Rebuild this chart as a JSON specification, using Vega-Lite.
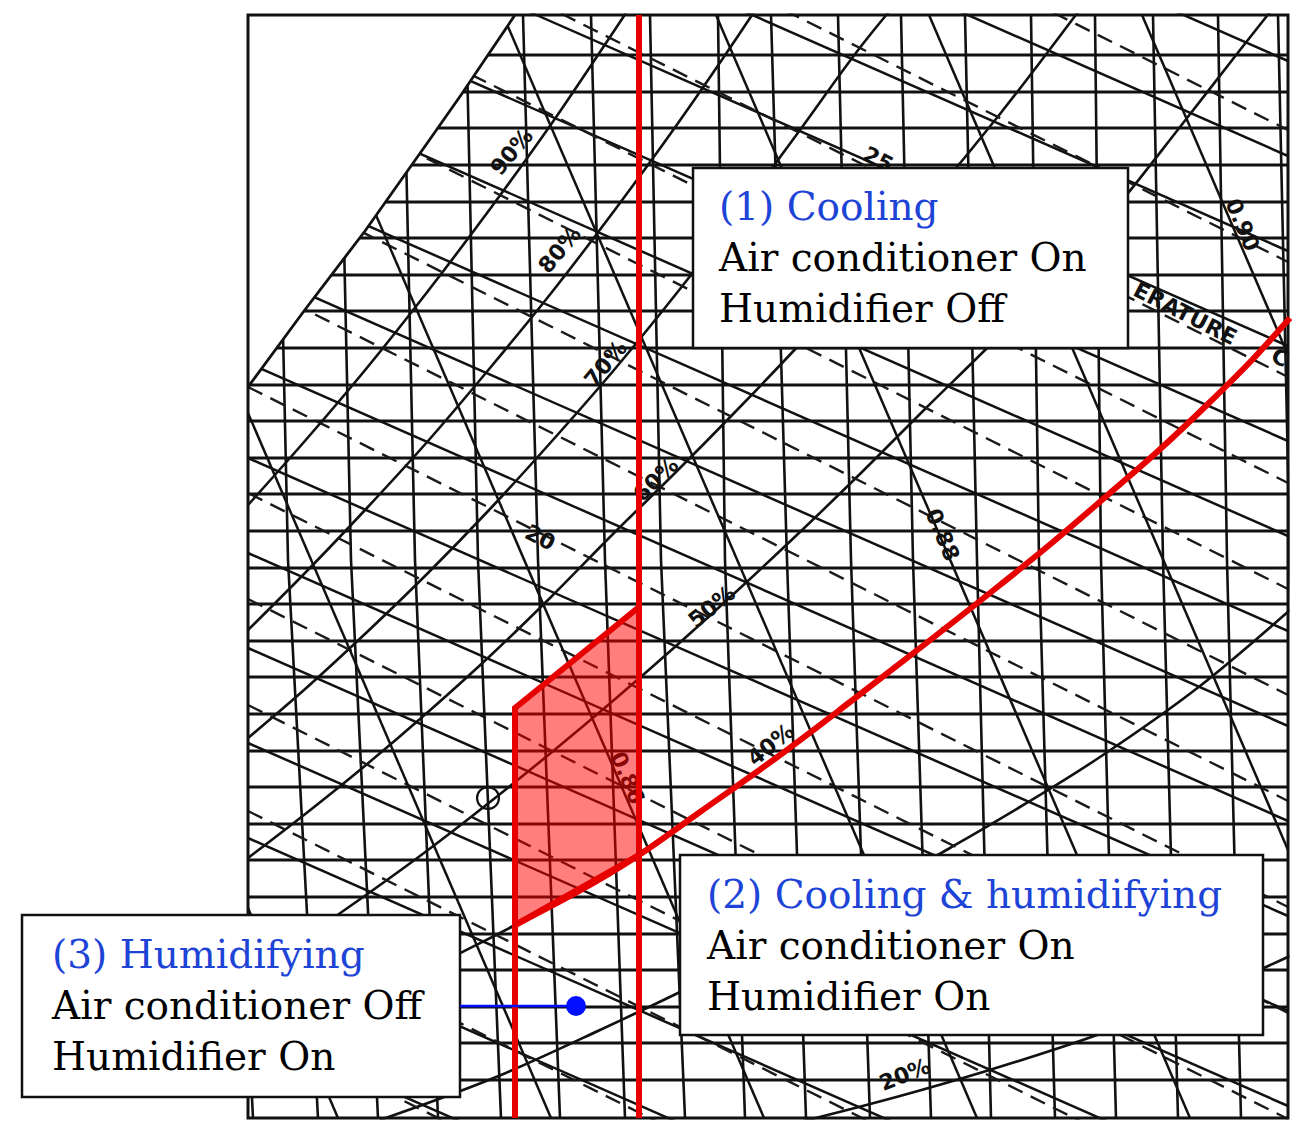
{
  "$schema": "https://vega.github.io/schema/vega-lite/v6.json",
  "width": 1304,
  "height": 1138,
  "autosize": {"type": "none"},
  "padding": 0,
  "background": "white",
  "config": {"view": {"stroke": null}},
  "datasets": {
    "hgrid": [{"x":248,"x2":1288,"y":55},{"x":248,"x2":1288,"y":92},{"x":248,"x2":1288,"y":128},{"x":248,"x2":1288,"y":165},{"x":248,"x2":1288,"y":202},{"x":248,"x2":1288,"y":238},{"x":248,"x2":1288,"y":275},{"x":248,"x2":1288,"y":311},{"x":248,"x2":1288,"y":348},{"x":248,"x2":1288,"y":385},{"x":248,"x2":1288,"y":421},{"x":248,"x2":1288,"y":458},{"x":248,"x2":1288,"y":494},{"x":248,"x2":1288,"y":531},{"x":248,"x2":1288,"y":568},{"x":248,"x2":1288,"y":604},{"x":248,"x2":1288,"y":641},{"x":248,"x2":1288,"y":677},{"x":248,"x2":1288,"y":714},{"x":248,"x2":1288,"y":751},{"x":248,"x2":1288,"y":787},{"x":248,"x2":1288,"y":824},{"x":248,"x2":1288,"y":860},{"x":248,"x2":1288,"y":897},{"x":248,"x2":1288,"y":934},{"x":248,"x2":1288,"y":970},{"x":248,"x2":1288,"y":1007},{"x":248,"x2":1288,"y":1043},{"x":248,"x2":1288,"y":1080}],
    "vgrid": [
      {"id":"vm","x":213,"y":15},{"id":"vm","x":225,"y":560},{"id":"vm","x":253,"y":1118},
      {"id":"v0","x":276,"y":15},{"id":"v0","x":288,"y":560},{"id":"v0","x":318,"y":1118},
      {"id":"v1","x":339,"y":15},{"id":"v1","x":351,"y":560},{"id":"v1","x":378,"y":1118},
      {"id":"v2","x":403,"y":15},{"id":"v2","x":415,"y":560},{"id":"v2","x":438,"y":1118},
      {"id":"v3","x":466,"y":15},{"id":"v3","x":478,"y":560},{"id":"v3","x":501,"y":1118},
      {"id":"v4","x":523,"y":15},{"id":"v4","x":538,"y":560},{"id":"v4","x":560,"y":1118},
      {"id":"v5","x":591,"y":15},{"id":"v5","x":605,"y":560},{"id":"v5","x":625,"y":1118},
      {"id":"v6","x":650,"y":15},{"id":"v6","x":661,"y":560},{"id":"v6","x":685,"y":1118},
      {"id":"v7","x":718,"y":15},{"id":"v7","x":725,"y":560},{"id":"v7","x":745,"y":1118},
      {"id":"v8","x":771,"y":15},{"id":"v8","x":787,"y":560},{"id":"v8","x":806,"y":1118},
      {"id":"v9","x":838,"y":15},{"id":"v9","x":851,"y":560},{"id":"v9","x":870,"y":1118},
      {"id":"v10","x":901,"y":15},{"id":"v10","x":913,"y":560},{"id":"v10","x":931,"y":1118},
      {"id":"v11","x":965,"y":15},{"id":"v11","x":977,"y":560},{"id":"v11","x":991,"y":1118},
      {"id":"v12","x":1031,"y":15},{"id":"v12","x":1039,"y":560},{"id":"v12","x":1055,"y":1118},
      {"id":"v13","x":1095,"y":15},{"id":"v13","x":1101,"y":560},{"id":"v13","x":1116,"y":1118},
      {"id":"v14","x":1153,"y":15},{"id":"v14","x":1163,"y":560},{"id":"v14","x":1178,"y":1118},
      {"id":"v15","x":1218,"y":15},{"id":"v15","x":1227,"y":560},{"id":"v15","x":1241,"y":1118},
      {"id":"v16","x":1278,"y":15},{"id":"v16","x":1290,"y":560},{"id":"v16","x":1303,"y":1118}
    ],
    "rh": [
      {"id":"r90","x":248,"y":505},{"id":"r90","x":304,"y":442},{"id":"r90","x":366,"y":369},{"id":"r90","x":428,"y":291},{"id":"r90","x":490,"y":209},{"id":"r90","x":552,"y":123},{"id":"r90","x":614,"y":31},{"id":"r90","x":626,"y":13},
      {"id":"r80","x":248,"y":630},{"id":"r80","x":304,"y":574},{"id":"r80","x":366,"y":509},{"id":"r80","x":428,"y":441},{"id":"r80","x":490,"y":368},{"id":"r80","x":552,"y":292},{"id":"r80","x":614,"y":211},{"id":"r80","x":676,"y":126},{"id":"r80","x":738,"y":36},{"id":"r80","x":754,"y":12},
      {"id":"r70","x":248,"y":738},{"id":"r70","x":304,"y":690},{"id":"r70","x":366,"y":633},{"id":"r70","x":428,"y":573},{"id":"r70","x":490,"y":509},{"id":"r70","x":552,"y":441},{"id":"r70","x":614,"y":370},{"id":"r70","x":676,"y":294},{"id":"r70","x":738,"y":214},{"id":"r70","x":800,"y":130},{"id":"r70","x":862,"y":45},{"id":"r70","x":892,"y":8},
      {"id":"r60","x":248,"y":858},{"id":"r60","x":304,"y":815},{"id":"r60","x":366,"y":765},{"id":"r60","x":428,"y":712},{"id":"r60","x":490,"y":656},{"id":"r60","x":552,"y":596},{"id":"r60","x":614,"y":533},{"id":"r60","x":676,"y":472},{"id":"r60","x":738,"y":409},{"id":"r60","x":800,"y":344},{"id":"r60","x":862,"y":276},{"id":"r60","x":930,"y":199},{"id":"r60","x":1000,"y":114},{"id":"r60","x":1078,"y":12},
      {"id":"r50","x":248,"y":975},{"id":"r50","x":304,"y":938},{"id":"r50","x":366,"y":895},{"id":"r50","x":428,"y":850},{"id":"r50","x":490,"y":802},{"id":"r50","x":552,"y":752},{"id":"r50","x":614,"y":700},{"id":"r50","x":676,"y":646},{"id":"r50","x":738,"y":590},{"id":"r50","x":800,"y":532},{"id":"r50","x":862,"y":472},{"id":"r50","x":924,"y":410},{"id":"r50","x":1000,"y":335},{"id":"r50","x":1060,"y":272},{"id":"r50","x":1120,"y":203},{"id":"r50","x":1180,"y":127},{"id":"r50","x":1240,"y":50},{"id":"r50","x":1270,"y":12},
      {"id":"r40","x":248,"y":1068},{"id":"r40","x":304,"y":1038},{"id":"r40","x":366,"y":1005},{"id":"r40","x":428,"y":970},{"id":"r40","x":515,"y":925},{"id":"r40","x":639,"y":855},{"id":"r40","x":700,"y":812},{"id":"r40","x":776,"y":758},{"id":"r40","x":850,"y":702},{"id":"r40","x":929,"y":641},{"id":"r40","x":1000,"y":585},{"id":"r40","x":1053,"y":542},{"id":"r40","x":1110,"y":493},{"id":"r40","x":1157,"y":452},{"id":"r40","x":1210,"y":402},{"id":"r40","x":1252,"y":360},{"id":"r40","x":1290,"y":318},
      {"id":"r30","x":380,"y":1120},{"id":"r30","x":501,"y":1075},{"id":"r30","x":600,"y":1030},{"id":"r30","x":680,"y":992},{"id":"r30","x":800,"y":930},{"id":"r30","x":950,"y":848},{"id":"r30","x":1100,"y":757},{"id":"r30","x":1200,"y":686},{"id":"r30","x":1290,"y":610},
      {"id":"r20","x":800,"y":1122},{"id":"r20","x":900,"y":1096},{"id":"r20","x":983,"y":1072},{"id":"r20","x":1100,"y":1034},{"id":"r20","x":1200,"y":996},{"id":"r20","x":1290,"y":956}
    ],
    "wb": [
      {"x":248,"y":-397,"x2":1288,"y2":61},{"x":248,"y":-302,"x2":1288,"y2":156},{"x":248,"y":-207,"x2":1288,"y2":251},{"x":248,"y":-112,"x2":1288,"y2":346},{"x":248,"y":-17,"x2":1288,"y2":441},{"x":248,"y":78,"x2":1288,"y2":536},{"x":248,"y":173,"x2":1288,"y2":631},{"x":248,"y":268,"x2":1288,"y2":726},{"x":248,"y":363,"x2":1288,"y2":821},{"x":248,"y":458,"x2":1288,"y2":916},{"x":248,"y":553,"x2":1288,"y2":1011},{"x":248,"y":648,"x2":1288,"y2":1106},{"x":248,"y":743,"x2":1288,"y2":1201},{"x":248,"y":838,"x2":1288,"y2":1296},{"x":248,"y":933,"x2":1288,"y2":1391},{"x":248,"y":1028,"x2":1288,"y2":1486}
    ],
    "et": [
      {"x":248,"y":-390,"x2":1288,"y2":130},{"x":248,"y":-258,"x2":1288,"y2":262},{"x":248,"y":-143,"x2":1288,"y2":377},{"x":248,"y":-37,"x2":1288,"y2":483},{"x":248,"y":69,"x2":1288,"y2":589},{"x":248,"y":175,"x2":1288,"y2":695},{"x":248,"y":281,"x2":1288,"y2":801},{"x":248,"y":387,"x2":1288,"y2":907},{"x":248,"y":493,"x2":1288,"y2":1013},{"x":248,"y":599,"x2":1288,"y2":1119},{"x":248,"y":705,"x2":1288,"y2":1225},{"x":248,"y":811,"x2":1288,"y2":1331},{"x":248,"y":917,"x2":1288,"y2":1437},{"x":248,"y":1023,"x2":1288,"y2":1543}
    ],
    "vol": [
      {"x":248,"y":908,"x2":338,"y2":1118},{"x":248,"y":413,"x2":551,"y2":1118},{"x":290,"y":15,"x2":764,"y2":1118},{"x":503,"y":15,"x2":977,"y2":1118},{"x":716,"y":15,"x2":1190,"y2":1118},{"x":929,"y":15,"x2":1288,"y2":850},{"x":1142,"y":15,"x2":1288,"y2":355}
    ],
    "lab50": [{"x":512,"y":152,"t":"90%"},{"x":560,"y":250,"t":"80%"},{"x":606,"y":364,"t":"70%"}],
    "lab44": [{"x":656,"y":480,"t":"60%"}],
    "lab39": [{"x":712,"y":607,"t":"50%"},{"x":771,"y":745,"t":"40%"}],
    "lab22": [{"x":905,"y":1075,"t":"20%"}],
    "lab27": [{"x":540,"y":538,"t":"20"},{"x":878,"y":160,"t":"25"},{"x":1185,"y":314,"t":"ERATURE"},{"x":1280,"y":358,"t":"C"}],
    "lab67": [{"x":627,"y":778,"t":"0.86"},{"x":942,"y":535,"t":"0.88"},{"x":1242,"y":225,"t":"0.90"}],
    "satfill": [{"x":236,"y":403},{"x":248,"y":387},{"x":304,"y":311},{"x":365,"y":231},{"x":428,"y":142},{"x":461,"y":95},{"x":490,"y":52},{"x":515,"y":15},{"x":520,"y":8}],
    "sat": [{"x":248,"y":387},{"x":304,"y":311},{"x":365,"y":231},{"x":428,"y":142},{"x":461,"y":95},{"x":490,"y":52},{"x":515,"y":15}],
    "margins": [{"x":0,"x2":247,"y":0,"y2":1138},{"x":0,"x2":1304,"y":0,"y2":13.5},{"x":1289.5,"x2":1304,"y":0,"y2":1138},{"x":0,"x2":1304,"y":1119.5,"y2":1138}],
    "frame": [{"x":248,"x2":1288,"y":15,"y2":1118}],
    "zone": [{"x":515,"y":708,"y2":925},{"x":639,"y":607,"y2":855}],
    "redv": [{"x":515,"y":708,"y2":1118},{"x":639,"y":15,"y2":1118}],
    "redc": [{"x":515,"y":925},{"x":639,"y":855},{"x":700,"y":812},{"x":776,"y":758},{"x":850,"y":702},{"x":929,"y":641},{"x":1000,"y":585},{"x":1053,"y":542},{"x":1110,"y":493},{"x":1157,"y":452},{"x":1210,"y":402},{"x":1252,"y":360},{"x":1290,"y":318}],
    "circ": [{"x":488,"y":798}],
    "boxes": [{"x":693,"x2":1128,"y":168,"y2":348},{"x":680,"x2":1263,"y":855,"y2":1035},{"x":22,"x2":460,"y":915,"y2":1097}],
    "btext": [
      {"x":719,"y":220,"t":"(1) Cooling","k":"head"},{"x":719,"y":271,"t":"Air conditioner On","k":"body"},{"x":719,"y":322,"t":"Humidifier Off","k":"body"},
      {"x":707,"y":908,"t":"(2) Cooling & humidifying","k":"head"},{"x":707,"y":959,"t":"Air conditioner On","k":"body"},{"x":707,"y":1010,"t":"Humidifier On","k":"body"},
      {"x":52,"y":968,"t":"(3) Humidifying","k":"head"},{"x":52,"y":1019,"t":"Air conditioner Off","k":"body"},{"x":52,"y":1070,"t":"Humidifier On","k":"body"}
    ],
    "blink": [{"x":460,"x2":576,"y":1006}],
    "bdot": [{"x":576,"y":1006}]
  },
  "encoding": {
    "x": {"field": "x", "type": "quantitative", "scale": {"domain": [0, 1304], "nice": false, "zero": false}, "axis": null},
    "y": {"field": "y", "type": "quantitative", "scale": {"domain": [0, 1138], "nice": false, "zero": false, "reverse": true}, "axis": null}
  },
  "layer": [
    {"data": {"name": "hgrid"}, "mark": {"type": "rule", "stroke": "#111", "strokeWidth": 2.8},
     "encoding": {"x2": {"field": "x2"}}},
    {"data": {"name": "vgrid"}, "mark": {"type": "line", "stroke": "#111", "strokeWidth": 2.6},
     "encoding": {"detail": {"field": "id"}, "order": {"field": "y", "type": "quantitative"}}},
    {"data": {"name": "rh"}, "mark": {"type": "line", "stroke": "#111", "strokeWidth": 2.6, "interpolate": "monotone"},
     "encoding": {"detail": {"field": "id"}}},
    {"data": {"name": "wb"}, "mark": {"type": "rule", "stroke": "#111", "strokeWidth": 2.5},
     "encoding": {"x2": {"field": "x2"}, "y2": {"field": "y2"}}},
    {"data": {"name": "et"}, "mark": {"type": "rule", "stroke": "#1a1a1a", "strokeWidth": 2.4, "strokeDash": [16, 9]},
     "encoding": {"x2": {"field": "x2"}, "y2": {"field": "y2"}}},
    {"data": {"name": "vol"}, "mark": {"type": "rule", "stroke": "#111", "strokeWidth": 2.5},
     "encoding": {"x2": {"field": "x2"}, "y2": {"field": "y2"}}},
    {"data": {"name": "lab50"}, "mark": {"type": "text", "font": "DejaVu Sans", "fontWeight": "bold", "fontSize": 22, "angle": -50, "align": "center", "baseline": "middle", "fill": "#111"},
     "encoding": {"text": {"field": "t"}}},
    {"data": {"name": "lab44"}, "mark": {"type": "text", "font": "DejaVu Sans", "fontWeight": "bold", "fontSize": 22, "angle": -44, "align": "center", "baseline": "middle", "fill": "#111"},
     "encoding": {"text": {"field": "t"}}},
    {"data": {"name": "lab39"}, "mark": {"type": "text", "font": "DejaVu Sans", "fontWeight": "bold", "fontSize": 22, "angle": -39, "align": "center", "baseline": "middle", "fill": "#111"},
     "encoding": {"text": {"field": "t"}}},
    {"data": {"name": "lab22"}, "mark": {"type": "text", "font": "DejaVu Sans", "fontWeight": "bold", "fontSize": 22, "angle": -22, "align": "center", "baseline": "middle", "fill": "#111"},
     "encoding": {"text": {"field": "t"}}},
    {"data": {"name": "lab27"}, "mark": {"type": "text", "font": "DejaVu Sans", "fontWeight": "bold", "fontSize": 22, "angle": 27, "align": "center", "baseline": "middle", "fill": "#111"},
     "encoding": {"text": {"field": "t"}}},
    {"data": {"name": "lab67"}, "mark": {"type": "text", "font": "DejaVu Sans", "fontWeight": "bold", "fontSize": 22, "angle": 67, "align": "center", "baseline": "middle", "fill": "#111"},
     "encoding": {"text": {"field": "t"}}},
    {"data": {"name": "satfill"}, "mark": {"type": "area", "fill": "white", "opacity": 1},
     "encoding": {"y2": {"datum": 10}}},
    {"data": {"name": "margins"}, "mark": {"type": "rect", "fill": "white"},
     "encoding": {"x2": {"field": "x2"}, "y2": {"field": "y2"}}},
    {"data": {"name": "sat"}, "mark": {"type": "line", "stroke": "#111", "strokeWidth": 2.8},
     "encoding": {}},
    {"data": {"name": "frame"}, "mark": {"type": "rect", "fill": "transparent", "stroke": "#111", "strokeWidth": 3},
     "encoding": {"x2": {"field": "x2"}, "y2": {"field": "y2"}}},
    {"data": {"name": "circ"}, "mark": {"type": "point", "shape": "circle", "size": 480, "filled": false, "stroke": "#111", "strokeWidth": 2.2, "opacity": 1}},
    {"data": {"name": "zone"}, "mark": {"type": "area", "fill": "#ff0000", "fillOpacity": 0.5, "stroke": "#e60000", "strokeWidth": 6},
     "encoding": {"y2": {"field": "y2"}}},
    {"data": {"name": "redv"}, "mark": {"type": "rule", "stroke": "#e60000", "strokeWidth": 6},
     "encoding": {"y2": {"field": "y2"}}},
    {"data": {"name": "redc"}, "mark": {"type": "line", "stroke": "#e60000", "strokeWidth": 6, "interpolate": "monotone"},
     "encoding": {}},
    {"data": {"name": "boxes"}, "mark": {"type": "rect", "fill": "white", "stroke": "#111", "strokeWidth": 2.5},
     "encoding": {"x2": {"field": "x2"}, "y2": {"field": "y2"}}},
    {"data": {"name": "btext"}, "mark": {"type": "text", "font": "DejaVu Serif", "fontSize": 39, "align": "left", "baseline": "alphabetic"},
     "encoding": {"text": {"field": "t"}, "color": {"field": "k", "type": "nominal", "scale": {"domain": ["head", "body"], "range": ["#1d44d6", "#000000"]}, "legend": null}}},
    {"data": {"name": "blink"}, "mark": {"type": "rule", "stroke": "#0010ff", "strokeWidth": 2.5},
     "encoding": {"x2": {"field": "x2"}}},
    {"data": {"name": "bdot"}, "mark": {"type": "point", "shape": "circle", "size": 400, "filled": true, "fill": "#0010ff", "opacity": 1}}
  ]
}
